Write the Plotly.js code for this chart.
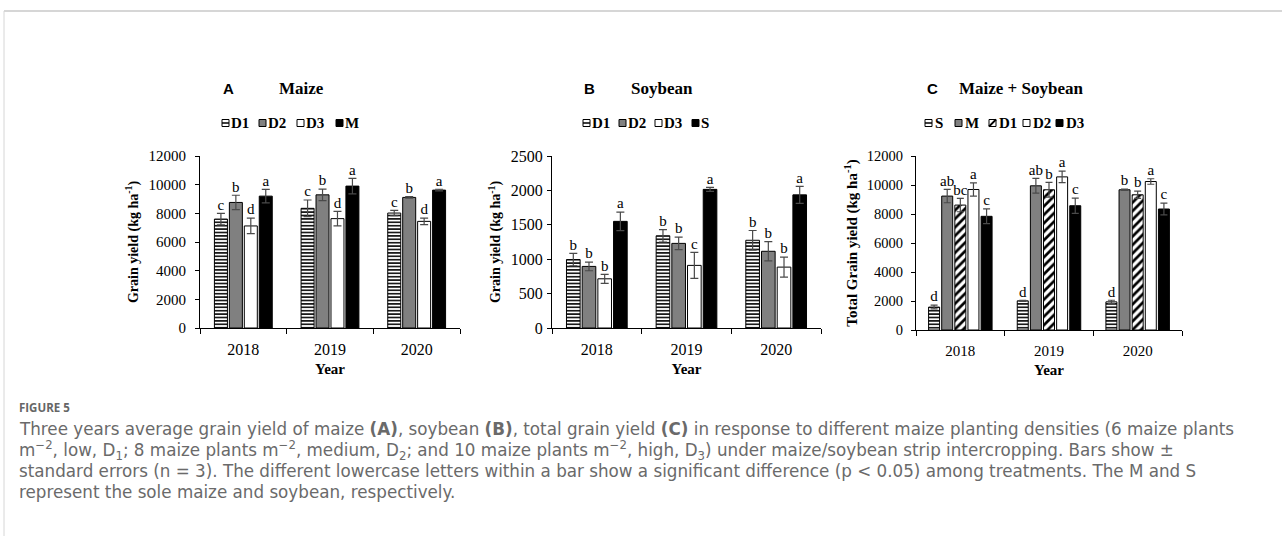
<!DOCTYPE html>
<html>
<head>
<meta charset="utf-8">
<script src="https://cdn.plot.ly/plotly-3.0.1.min.js"></script>
<style>
  html, body { margin: 0; padding: 0; background: #fff; overflow: hidden; }
  #plot { width: 1282px; height: 536px; }
</style>
</head>
<body>
<div id="plot"></div>
<script>
// ---------------- DATA ----------------
const years = ['2018', '2019', '2020'];

// Panel A: Maize grain yield (kg ha-1)
const maizeD1 = [7600, 8350, 8020];
const maizeD1Err = [400, 580, 190];
const maizeD1Let = ['c', 'c', 'c'];
const maizeD2 = [8760, 9290, 9110];
const maizeD2Err = [500, 400, 50];
const maizeD2Let = ['b', 'b', 'b'];
const maizeD3 = [7120, 7630, 7440];
const maizeD3Err = [540, 500, 230];
const maizeD3Let = ['d', 'd', 'd'];
const maizeM = [9200, 9900, 9620];
const maizeMErr = [470, 540, 60];
const maizeMLet = ['a', 'a', 'a'];

// Panel B: Soybean grain yield (kg ha-1)
const soyD1 = [995, 1340, 1275];
const soyD1Err = [90, 90, 142];
const soyD1Let = ['b', 'b', 'b'];
const soyD2 = [895, 1230, 1115];
const soyD2Err = [63, 90, 140];
const soyD2Let = ['b', 'b', 'b'];
const soyD3 = [715, 910, 885];
const soyD3Err = [65, 190, 146];
const soyD3Let = ['b', 'c', 'b'];
const soyS = [1550, 2015, 1935];
const soySErr = [135, 30, 123];
const soySLet = ['a', 'a', 'a'];

// Panel C: Total grain yield (kg ha-1)
const totS = [1580, 2010, 1940];
const totSErr = [130, 30, 110];
const totSLet = ['d', 'd', 'd'];
const totM = [9235, 9945, 9670];
const totMErr = [460, 510, 40];
const totMLet = ['ab', 'ab', 'b'];
const totD1 = [8615, 9670, 9325];
const totD1Err = [460, 510, 250];
const totD1Let = ['bc', 'b', 'b'];
const totD2 = [9690, 10560, 10240];
const totD2Err = [460, 400, 190];
const totD2Let = ['a', 'a', 'a'];
const totD3 = [7840, 8570, 8345];
const totD3Err = [510, 530, 400];
const totD3Let = ['c', 'c', 'c'];

// ---------------- STYLE ----------------
const W = 1282, H = 536;
const PX = p => p / W;
const PY = p => 1 - p / H;
const SERIF = 'Liberation Serif, Times New Roman, serif';
const SANS = 'Liberation Sans, Arial, sans-serif';

const styles = {
  hstripe: { color: '#ffffff', pattern: { shape: '-', size: 3.4, solidity: 0.45, fgcolor: '#000000', bgcolor: '#ffffff' } },
  gray:    { color: '#808080' },
  white:   { color: '#ffffff' },
  black:   { color: '#000000' },
  diag:    { color: '#ffffff', pattern: { shape: '/', size: 6, solidity: 0.45, fgcolor: '#000000', bgcolor: '#ffffff' } }
};

const panels = [
  {
    xa: 'x', ya: 'y', xdom: [200, 460], ydom: [156, 328], yrange: [0, 12000], dtick: 2000,
    groupFrac: 0.69, barFrac: 0.15,
    series: [
      { name: 'D1', y: maizeD1, err: maizeD1Err, lab: maizeD1Let, st: 'hstripe' },
      { name: 'D2', y: maizeD2, err: maizeD2Err, lab: maizeD2Let, st: 'gray' },
      { name: 'D3', y: maizeD3, err: maizeD3Err, lab: maizeD3Let, st: 'white' },
      { name: 'M',  y: maizeM,  err: maizeMErr,  lab: maizeMLet,  st: 'black' }
    ],
    ytitle: '<b>Grain yield (kg ha<sup>-1</sup>)</b>', ytitleSize: 14, ytickSize: 15, xtickSize: 16, labStand: 6, titleStand: 6,
    errW: 4
  },
  {
    xa: 'x2', ya: 'y2', xdom: [552, 821], ydom: [156, 328], yrange: [0, 2500], dtick: 500,
    groupFrac: 0.70, barFrac: 0.152,
    series: [
      { name: 'D1', y: soyD1, err: soyD1Err, lab: soyD1Let, st: 'hstripe' },
      { name: 'D2', y: soyD2, err: soyD2Err, lab: soyD2Let, st: 'gray' },
      { name: 'D3', y: soyD3, err: soyD3Err, lab: soyD3Let, st: 'white' },
      { name: 'S',  y: soyS,  err: soySErr,  lab: soySLet,  st: 'black' }
    ],
    ytitle: '<b>Grain yield (kg ha<sup>-1</sup>)</b>', ytitleSize: 14, ytickSize: 16, xtickSize: 16, labStand: 1, titleStand: 6,
    errW: 4
  },
  {
    xa: 'x3', ya: 'y3', xdom: [916, 1182], ydom: [156, 330], yrange: [0, 12000], dtick: 2000,
    groupFrac: 0.74, barFrac: 0.124,
    series: [
      { name: 'S',  y: totS,  err: totSErr,  lab: totSLet,  st: 'hstripe' },
      { name: 'M',  y: totM,  err: totMErr,  lab: totMLet,  st: 'gray' },
      { name: 'D1', y: totD1, err: totD1Err, lab: totD1Let, st: 'diag' },
      { name: 'D2', y: totD2, err: totD2Err, lab: totD2Let, st: 'white' },
      { name: 'D3', y: totD3, err: totD3Err, lab: totD3Let, st: 'black' }
    ],
    ytitle: '<b>Total Grain yield (kg ha<sup>-1</sup>)</b>', ytitleSize: 15, ytickSize: 14.5, xtickSize: 15, labStand: 5, titleStand: 5,
    errW: 3.5
  }
];

const traces = [];
const layout = {
  width: W, height: H,
  margin: { l: 0, r: 0, t: 0, b: 0 },
  paper_bgcolor: '#ffffff', plot_bgcolor: '#ffffff',
  showlegend: false,
  barmode: 'overlay',
  font: { family: SERIF, color: '#000000' },
  annotations: [],
  shapes: []
};

const idx = years.map((_, i) => i);

panels.forEach((p, pi) => {
  const n = p.series.length;
  const slot = p.groupFrac / n;
  const w = p.barFrac;
  p.series.forEach((s, k) => {
    const off = -p.groupFrac / 2 + k * slot + (slot - w) / 2;
    const st = styles[s.st];
    const marker = { color: st.color, line: { color: '#000000', width: 1 } };
    if (st.pattern) marker.pattern = st.pattern;
    traces.push({
      type: 'bar', name: s.name, x: idx, y: s.y,
      xaxis: p.xa, yaxis: p.ya,
      width: w, offset: off,
      marker: marker,
      error_y: { type: 'data', array: s.err, visible: true, color: '#4a4a4a', thickness: 1.2, width: p.errW },
      hoverinfo: 'skip'
    });
    traces.push({
      type: 'scatter', mode: 'text', name: s.name + ' letters', x: idx.map(i => i + off + w / 2),
      y: s.y.map((v, i) => v + s.err[i]),
      text: s.lab, textposition: 'top center',
      textfont: { family: SERIF, size: 15, color: '#000000' },
      xaxis: p.xa, yaxis: p.ya, cliponaxis: false, hoverinfo: 'skip'
    });
  });
  const sx = pi === 0 ? '' : String(pi + 1);
  layout['xaxis' + sx] = {
    domain: [PX(p.xdom[0]), PX(p.xdom[1])],
    anchor: 'y' + sx,
    range: [-0.5, 2.5],
    tickmode: 'array', tickvals: idx, ticktext: years,
    ticks: '',
    ticklabelstandoff: 7,
    minor: { tickmode: 'array', tickvals: [-0.5, 0.5, 1.5, 2.5], ticks: 'outside', ticklen: 5, tickcolor: '#000000', tickwidth: 1 },
    showline: true, linecolor: '#000000', linewidth: 1,
    showgrid: false, zeroline: false,
    tickfont: { family: SERIF, size: p.xtickSize, color: '#000000' },
    title: { text: '<b>Year</b>', font: { family: SERIF, size: 15, color: '#000000' }, standoff: 6 },
    fixedrange: true
  };
  layout['yaxis' + sx] = {
    domain: [PY(p.ydom[1]), PY(p.ydom[0])],
    anchor: 'x' + sx,
    range: p.yrange, dtick: p.dtick, tick0: 0, tickformat: 'd',
    ticks: 'outside', ticklen: 4, tickcolor: '#000000',
    ticklabelstandoff: p.labStand,
    showline: true, linecolor: '#000000', linewidth: 1,
    showgrid: false, zeroline: false,
    tickfont: { family: SERIF, size: p.ytickSize, color: '#000000' },
    title: { text: p.ytitle, font: { family: SERIF, size: p.ytitleSize, color: '#000000' }, standoff: p.titleStand },
    fixedrange: true
  };
});

// ---------------- PANEL TITLES ----------------
function ann(text, x, y, font, extra) {
  layout.annotations.push(Object.assign({
    text: text, x: PX(x), y: PY(y), xref: 'paper', yref: 'paper',
    xanchor: 'left', yanchor: 'middle', showarrow: false, font: font, borderpad: 0
  }, extra || {}));
}
const titleSans = { family: SANS, size: 15, color: '#000000', weight: 'bold' };
const titleSerif = { family: SERIF, size: 17, color: '#000000', weight: 'bold' };
ann('<b>A</b>', 222, 88, titleSans);
ann('<b>Maize</b>', 278, 88, titleSerif);
ann('<b>B</b>', 583, 88, titleSans);
ann('<b>Soybean</b>', 630, 88, titleSerif);
ann('<b>C</b>', 926, 88, titleSans);
ann('<b>Maize + Soybean</b>', 958, 88, titleSerif);

// ---------------- LEGENDS (drawn) ----------------
const legends = [
  { yc: 123, items: [['hstripe', 222, 'D1', 230], ['gray', 259, 'D2', 267], ['white', 297, 'D3', 305], ['black', 336, 'M', 344]] },
  { yc: 123, items: [['hstripe', 583, 'D1', 591], ['gray', 619, 'D2', 627], ['white', 655, 'D3', 663], ['black', 692, 'S', 700]] },
  { yc: 123, items: [['hstripe', 925, 'S', 934], ['gray', 955, 'M', 964], ['diag', 989, 'D1', 998], ['white', 1023, 'D2', 1032], ['black', 1056, 'D3', 1065]] }
];
const legFont = { family: SERIF, size: 15, color: '#000000' };
legends.forEach(L => {
  L.items.forEach(([st, sx, label, tx]) => {
    const s = 7;
    const fill = st === 'gray' ? '#808080' : (st === 'black' ? '#000000' : '#ffffff');
    layout.shapes.push({ type: 'rect', xref: 'paper', yref: 'paper',
      x0: PX(sx), x1: PX(sx + s), y0: PY(L.yc + s / 2), y1: PY(L.yc - s / 2),
      fillcolor: fill, line: { color: '#000000', width: 1 } });
    if (st === 'hstripe') {
      layout.shapes.push({ type: 'line', xref: 'paper', yref: 'paper',
        x0: PX(sx), x1: PX(sx + s), y0: PY(L.yc), y1: PY(L.yc), line: { color: '#000000', width: 1.5 } });
    }
    if (st === 'diag') {
      layout.shapes.push({ type: 'line', xref: 'paper', yref: 'paper',
        x0: PX(sx), x1: PX(sx + s), y0: PY(L.yc + s / 2), y1: PY(L.yc - s / 2), line: { color: '#000000', width: 1.8 } });
    }
    ann('<b>' + label + '</b>', tx, L.yc, legFont);
  });
});

// ---------------- FRAME ----------------
layout.shapes.push({ type: 'line', xref: 'paper', yref: 'paper', x0: PX(4), x1: 1, y0: PY(11), y1: PY(11), line: { color: '#d6d6d6', width: 2 } });
layout.shapes.push({ type: 'line', xref: 'paper', yref: 'paper', x0: PX(4), x1: PX(4), y0: PY(11), y1: 0, line: { color: '#d6d6d6', width: 1 } });

// ---------------- CAPTION ----------------
const capFont = { family: 'DejaVu Sans, Open Sans, sans-serif', size: 16.75, color: '#6a6a6a' };
ann('FIGURE 5', 18, 407, { family: 'Open Sans, Noto Sans, sans-serif', size: 11.5, color: '#666666', weight: 'bold' });
const capLines = [
  'Three years average grain yield of maize <b>(A)</b>, soybean <b>(B)</b>, total grain yield <b>(C)</b> in response to different maize planting densities (6 maize plants',
  'm<sup>−2</sup>, low, D<sub>1</sub>; 8 maize plants m<sup>−2</sup>, medium, D<sub>2</sub>; and 10 maize plants m<sup>−2</sup>, high, D<sub>3</sub>) under maize/soybean strip intercropping. Bars show ±',
  'standard errors (n = 3). The different lowercase letters within a bar show a significant difference (p &lt; 0.05) among treatments. The M and S',
  'represent the sole maize and soybean, respectively.'
];
const capY = [429, 450, 471, 492];
capLines.forEach((t, i) => ann(t, 18, capY[i], capFont));

Plotly.newPlot('plot', traces, layout, { displayModeBar: false, staticPlot: true });
</script>
</body>
</html>
